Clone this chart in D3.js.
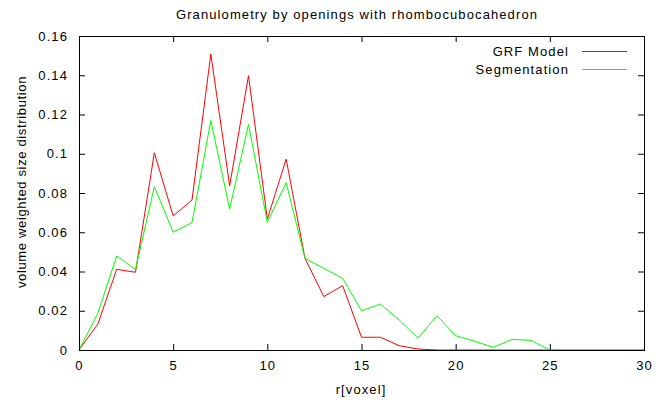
<!DOCTYPE html>
<html>
<head>
<meta charset="utf-8">
<script src="https://cdn.jsdelivr.net/npm/d3@7"></script>
<style>
  html, body { margin: 0; padding: 0; background: #fff; }
  svg text { font-family: "Liberation Sans", Arial, sans-serif; fill: #000; }
</style>
</head>
<body>
<svg id="chart" width="656" height="400"></svg>
<script>
// Radius in voxels
const radii = d3.range(0, 31);

// Volume-weighted size distribution, GRF model
const grfModel = [
  0, 0.0132, 0.0411, 0.0396, 0.1005, 0.0683, 0.0764, 0.1508, 0.0837, 0.1398,
  0.0667, 0.0973, 0.0467, 0.0272, 0.0328, 0.0065, 0.0065, 0.0022, 0.0005, 0,
  0, 0, 0, 0, 0, 0, 0, 0, 0, 0, 0
];

// Volume-weighted size distribution, segmentation (up to r = 25)
const segmentation = [
  0, 0.0187, 0.0479, 0.0411, 0.0832, 0.0600, 0.0649, 0.1169, 0.0718, 0.1150,
  0.0650, 0.0853, 0.0467, 0.0416, 0.0365, 0.0200, 0.0234, 0.0153, 0.0060, 0.0175,
  0.0073, 0.0045, 0.0014, 0.0054, 0.0049, 0
];

const xTicks = [0, 5, 10, 15, 20, 25, 30];
const yTicks = [0, 0.02, 0.04, 0.06, 0.08, 0.1, 0.12, 0.14, 0.16];

const seriesNames = ["GRF Model", "Segmentation"];
const seriesColors = ["#ff0000", "#00ff00"];

const svg = d3.select("#chart");
const plotLeft = 79, plotRight = 644, plotTop = 36, plotBottom = 350;

const x = d3.scaleLinear().domain([0, 30]).range([plotLeft, plotRight]);
const y = d3.scaleLinear().domain([0, 0.16]).range([plotBottom, plotTop]);

const tickLen = 6;
const textSpacing = "1.1px";

// Series lines
const line = d3.line().x((d, i) => x(radii[i])).y(d => y(d));
[grfModel, segmentation].forEach((vals, k) => {
  svg.append("path")
    .datum(vals)
    .attr("fill", "none")
    .attr("stroke", seriesColors[k])
    .attr("stroke-width", 1)
    .attr("d", line);
});

// Axes with ticks pointing inward on all four sides
const axisBottom = d3.axisBottom(x).tickValues(xTicks).tickSizeInner(-tickLen).tickSizeOuter(0)
  .tickPadding(tickLen + 10).tickFormat(d3.format("d"));
const axisTop = d3.axisTop(x).tickValues(xTicks.slice(1, -1)).tickSizeInner(-tickLen).tickSizeOuter(0)
  .tickFormat("");
const axisLeft = d3.axisLeft(y).tickValues(yTicks).tickSizeInner(-tickLen).tickSizeOuter(0)
  .tickPadding(tickLen + 10).tickFormat(d => d === 0 ? "0" : String(+d.toFixed(2)));
const axisRight = d3.axisRight(y).tickValues(yTicks.slice(1, -1)).tickSizeInner(-tickLen).tickSizeOuter(0)
  .tickFormat("");

function style(g) {
  g.select(".domain").remove();
  g.selectAll(".tick line").attr("stroke", "#000").attr("stroke-width", 1);
  g.selectAll(".tick text")
    .attr("font-size", 13)
    .attr("font-family", "'Liberation Sans', Arial, sans-serif")
    .style("letter-spacing", textSpacing)
    .attr("fill", "#000");
}

svg.append("g").attr("transform", `translate(0,${plotBottom})`).call(axisBottom).call(style)
  .selectAll(".tick text").attr("dy", "0.71em").attr("y", 11);
svg.append("g").attr("transform", `translate(0,${plotTop})`).call(axisTop).call(style);
svg.append("g").attr("transform", `translate(${plotLeft},0)`).call(axisLeft).call(style)
  .selectAll(".tick text").attr("x", -11);
svg.append("g").attr("transform", `translate(${plotRight},0)`).call(axisRight).call(style);

// Plot frame
svg.append("rect")
  .attr("x", plotLeft + 0.5).attr("y", plotTop + 0.5)
  .attr("width", plotRight - plotLeft).attr("height", plotBottom - plotTop)
  .attr("fill", "none").attr("stroke", "#000").attr("stroke-width", 1);

// Title and axis labels
svg.append("text")
  .attr("x", 357).attr("y", 19)
  .attr("text-anchor", "middle").attr("font-size", 13)
  .style("letter-spacing", textSpacing)
  .text("Granulometry by openings with rhombocubocahedron");

svg.append("text")
  .attr("x", 361).attr("y", 394)
  .attr("text-anchor", "middle").attr("font-size", 13)
  .style("letter-spacing", textSpacing)
  .text("r[voxel]");

svg.append("text")
  .attr("transform", "translate(26,182) rotate(-90)")
  .attr("text-anchor", "middle").attr("font-size", 13)
  .style("letter-spacing", "0.65px")
  .text("volume weighted size distribution");

// Legend
const legend = svg.append("g");
seriesNames.forEach((name, k) => {
  const ly = 51 + k * 18;
  legend.append("text")
    .attr("x", 569).attr("y", ly + 5)
    .attr("text-anchor", "end").attr("font-size", 13)
    .style("letter-spacing", textSpacing)
    .text(name);
  legend.append("line")
    .attr("x1", 582).attr("x2", 627)
    .attr("y1", ly + 0.5).attr("y2", ly + 0.5)
    .attr("stroke", seriesColors[k]).attr("stroke-width", 1);
});
</script>
</body>
</html>
